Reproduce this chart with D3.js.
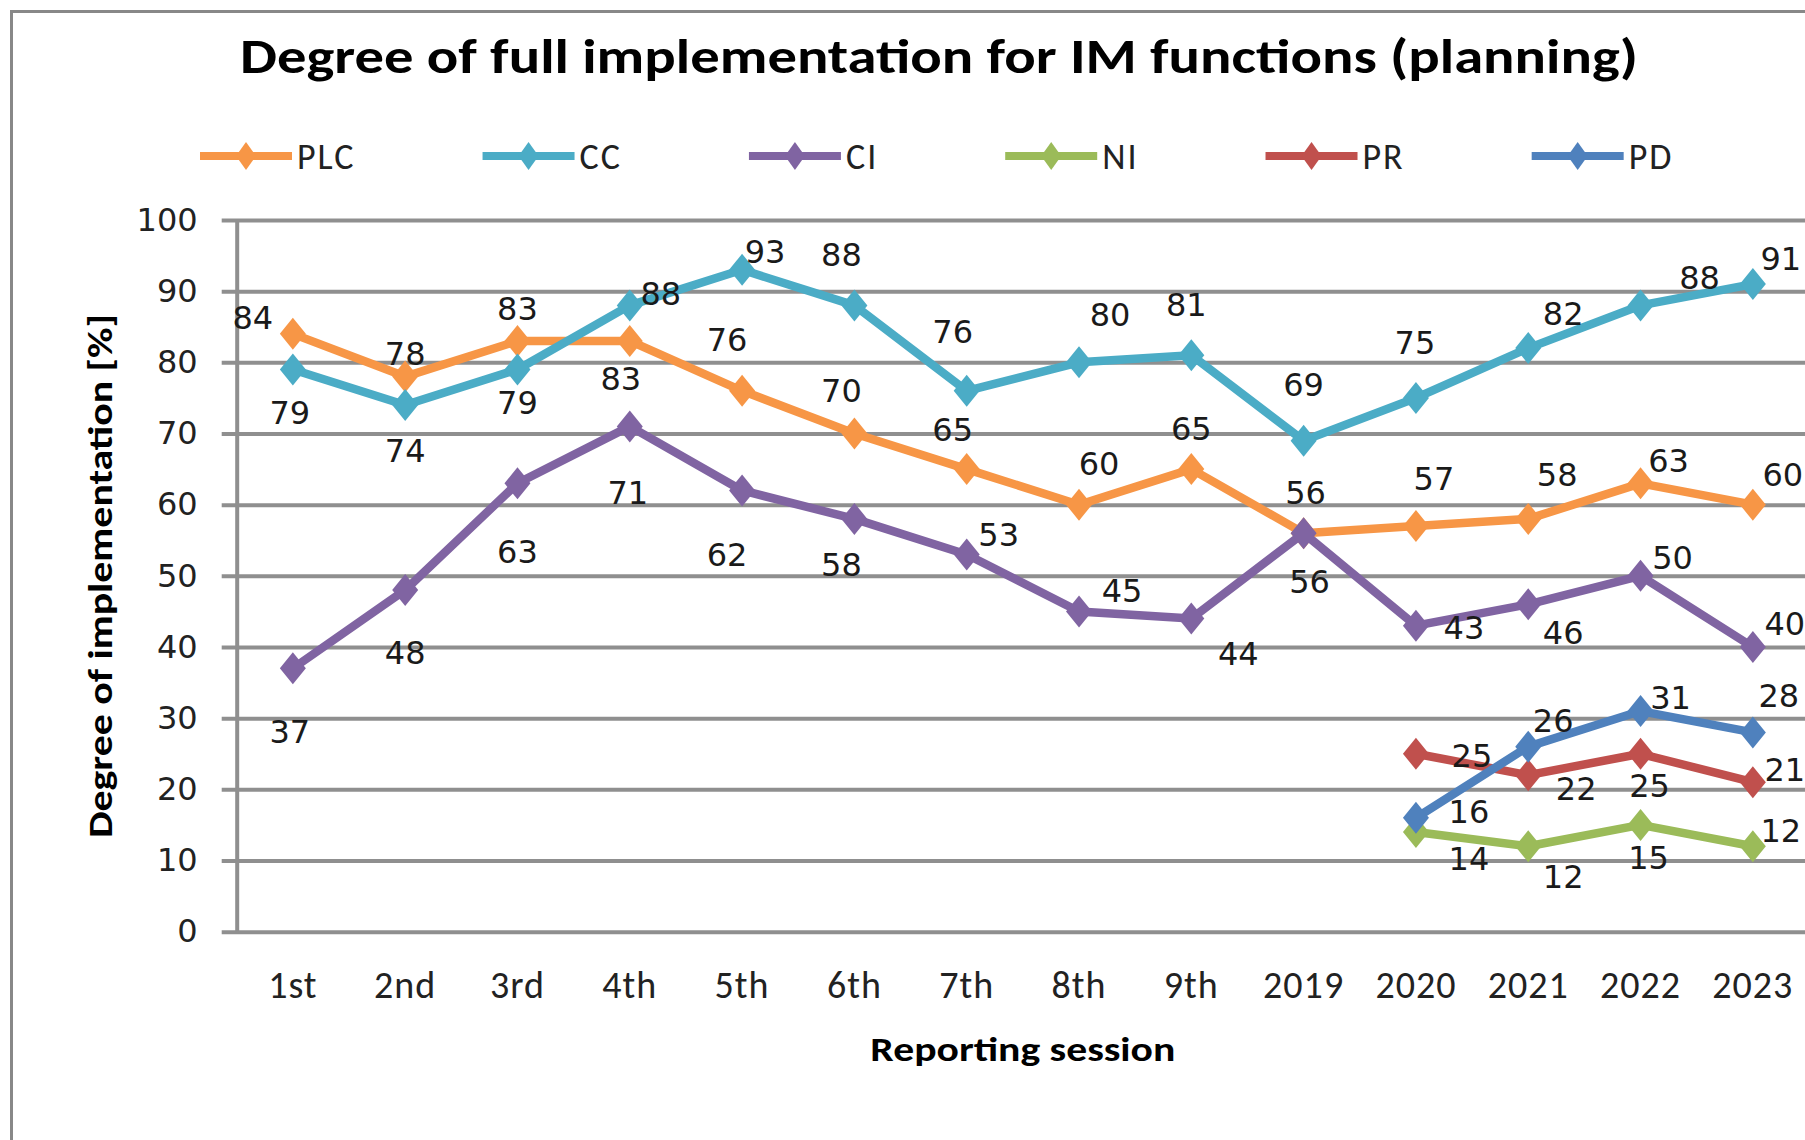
<!DOCTYPE html>
<html>
<head>
<meta charset="utf-8">
<script src="https://cdn.jsdelivr.net/npm/d3@7"></script>
<style>
  body { margin: 0; background: #fff; }
  svg { display: block; }
</style>
</head>
<body>
<svg id="chart" width="1805" height="1140"></svg>
<script>
// reporting sessions on the x axis
let sessions = ["1st", "2nd", "3rd", "4th", "5th", "6th", "7th", "8th", "9th", "2019", "2020", "2021", "2022", "2023"];

// degree of full implementation [%] per function
let plc = [84, 78, 83, 83, 76, 70, 65, 60, 65, 56, 57, 58, 63, 60];
let cc  = [79, 74, 79, 88, 93, 88, 76, 80, 81, 69, 75, 82, 88, 91];
let ci  = [37, 48, 63, 71, 62, 58, 53, 45, 44, 56, 43, 46, 50, 40];
let ni  = [null, null, null, null, null, null, null, null, null, null, 14, 12, 15, 12];
let pr  = [null, null, null, null, null, null, null, null, null, null, 25, 22, 25, 21];
let pd  = [null, null, null, null, null, null, null, null, null, null, 16, 26, 31, 28];

let seriesNames = ["PLC", "CC", "CI", "NI", "PR", "PD"];
let yTicks = [0, 10, 20, 30, 40, 50, 60, 70, 80, 90, 100];

let colors = ["#F79646", "#4BACC6", "#8064A2", "#9BBB59", "#C0504D", "#4F81BD"];

// where each data label sits relative to its point (px)
let labelNudge = [
  [[-40,-16],[0,-23],[0,-33],[-9,37],[-15,-51],[-13,-43],[-14,-40],[20,-41],[0,-41],[2,-41],[18,-48],[29,-44],[28,-23],[30,-30]],
  [[-3,43],[0,45],[0,33],[31,-12],[23,-18],[-13,-51],[-14,-59],[31,-48],[-5,-51],[0,-56],[-1,-55],[35,-35],[59,-28],[28,-26]],
  [[-3,63],[0,62],[0,68],[-2,66],[-15,64],[-13,46],[32,-20],[43,-21],[47,35],[6,48],[48,2],[35,28],[32,-18],[32,-24]],
  [null,null,null,null,null,null,null,null,null,null,[53,26],[35,30],[8,33],[28,-16]],
  [null,null,null,null,null,null,null,null,null,null,[56,2],[48,13],[9,32],[32,-13]],
  [null,null,null,null,null,null,null,null,null,null,[53,-6],[25,-26],[30,-14],[26,-37]]
];

let series = [plc, cc, ci, ni, pr, pd].map((vals, i) => {
  return { name: seriesNames[i], color: colors[i], values: vals, nudge: labelNudge[i] };
});

let svg = d3.select("#chart");
let gridColor = "#8f8f8f";
let calibri = "Carlito, Calibri, Lato, sans-serif";
let verdana = "Verdana, 'DejaVu Sans', sans-serif";

// chart border
svg.append("rect")
  .attr("x", 11.5).attr("y", 11.5)
  .attr("width", 2000).attr("height", 2000)
  .attr("fill", "none")
  .attr("stroke", "#888")
  .attr("stroke-width", 3);

let plotLeft = 236.7, plotRight = 1809, plotTop = 220, plotBottom = 931.7;

let x = d3.scaleBand().domain(sessions).range([plotLeft, plotRight]);
let y = d3.scaleLinear().domain([0, 100]).range([plotBottom, plotTop]);

// title
svg.append("text")
  .attr("x", 939).attr("y", 73)
  .attr("text-anchor", "middle")
  .attr("font-family", calibri)
  .attr("font-weight", "bold")
  .attr("font-size", 49)
  .attr("textLength", 1398)
  .attr("lengthAdjust", "spacingAndGlyphs")
  .text("Degree of full implementation for IM functions (planning)");

// y axis with gridlines
let yAxis = svg.append("g")
  .attr("transform", "translate(" + plotLeft + ",0)")
  .call(d3.axisLeft(y).tickValues(yTicks).tickSize(-(plotRight - plotLeft + 10)).tickSizeOuter(0).tickPadding(39));

yAxis.selectAll(".tick line")
  .attr("x1", -15)
  .attr("stroke", gridColor)
  .attr("stroke-width", 4);
yAxis.select(".domain")
  .attr("stroke", gridColor)
  .attr("stroke-width", 4);
yAxis.selectAll("text")
  .attr("font-family", verdana)
  .attr("font-size", 32)
  .attr("fill", "#222");

// x axis labels
let xAxis = svg.append("g")
  .attr("transform", "translate(0," + plotBottom + ")")
  .call(d3.axisBottom(x).tickSize(0).tickPadding(0));
xAxis.select(".domain").remove();
xAxis.selectAll("text")
  .attr("y", 66).attr("dy", 0)
  .attr("font-family", calibri)
  .attr("font-size", 38)
  .attr("letter-spacing", 1)
  .attr("fill", "#222");

// axis titles
svg.append("text")
  .attr("x", (plotLeft + plotRight) / 2).attr("y", 1061)
  .attr("text-anchor", "middle")
  .attr("font-family", calibri)
  .attr("font-weight", "bold")
  .attr("font-size", 35)
  .attr("textLength", 305)
  .attr("lengthAdjust", "spacingAndGlyphs")
  .text("Reporting session");

svg.append("text")
  .attr("transform", "translate(112," + (plotTop + plotBottom) / 2 + ") rotate(-90)")
  .attr("text-anchor", "middle")
  .attr("font-family", calibri)
  .attr("font-weight", "bold")
  .attr("font-size", 35)
  .attr("textLength", 524)
  .attr("lengthAdjust", "spacingAndGlyphs")
  .text("Degree of implementation [%]");

// lines and markers
let diamond = "M0,-16L13,0L0,16L-13,0Z";
let cx = (i) => x(sessions[i]) + x.bandwidth() / 2;

let line = d3.line()
  .defined((d) => d !== null)
  .x((d, i) => cx(i))
  .y((d) => y(d));

series.forEach((s) => {
  svg.append("path")
    .datum(s.values)
    .attr("d", line)
    .attr("fill", "none")
    .attr("stroke", s.color)
    .attr("stroke-width", 8.5)
    .attr("stroke-linejoin", "round");

  svg.append("g")
    .selectAll("path")
    .data(s.values.map((v, i) => ({ v: v, i: i })).filter((d) => d.v !== null))
    .enter()
    .append("path")
    .attr("d", diamond)
    .attr("transform", (d) => "translate(" + cx(d.i) + "," + y(d.v) + ")")
    .attr("fill", s.color);
});

// data labels on top
series.forEach((s) => {
  svg.append("g")
    .selectAll("text")
    .data(s.values.map((v, i) => ({ v: v, i: i })).filter((d) => d.v !== null))
    .enter()
    .append("text")
    .attr("x", (d) => cx(d.i) + s.nudge[d.i][0])
    .attr("y", (d) => y(d.v) + s.nudge[d.i][1])
    .attr("dy", "0.36em")
    .attr("text-anchor", "middle")
    .attr("font-family", verdana)
    .attr("font-size", 32)
    .attr("fill", "#1a1a1a")
    .text((d) => d.v);
});

// legend
let legendY = 156;
let lx = 200;
series.forEach((s) => {
  let g = svg.append("g").attr("transform", "translate(" + lx + "," + legendY + ")");
  g.append("line")
    .attr("x1", 0).attr("x2", 92)
    .attr("stroke", s.color)
    .attr("stroke-width", 8);
  g.append("path")
    .attr("d", "M0,-14L10,0L0,14L-10,0Z")
    .attr("transform", "translate(46,0)")
    .attr("fill", s.color);
  let t = g.append("text")
    .attr("x", 97).attr("y", 0)
    .attr("dy", "0.36em")
    .attr("font-family", calibri)
    .attr("font-size", 36)
    .attr("letter-spacing", 2)
    .attr("fill", "#222")
    .text(s.name);
  lx += 97 + t.node().getComputedTextLength() + 127;
});
</script>
</body>
</html>
